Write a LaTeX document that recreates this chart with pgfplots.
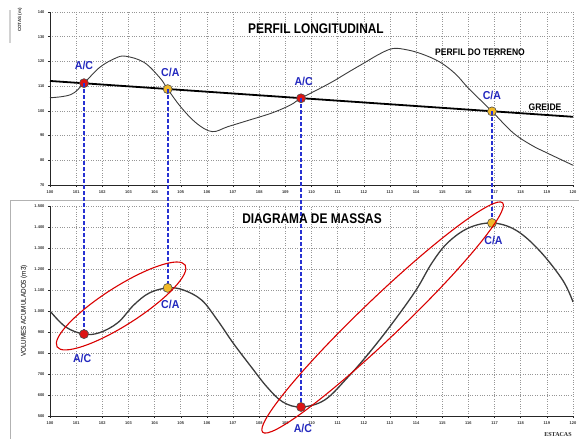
\documentclass[border=0pt]{standalone}
\usepackage{fontspec}
\setmainfont{Liberation Sans}
\newfontfamily\serifb{Liberation Serif}
\usepackage{graphicx}
\usepackage{pgfplots}
\pgfplotsset{compat=1.18}
\definecolor{lblblue}{RGB}{35,40,190}
\definecolor{dashblue}{RGB}{40,50,210}
\definecolor{mred}{RGB}{220,20,20}
\definecolor{myel}{RGB}{240,185,40}
\definecolor{gridc}{RGB}{150,150,150}
\definecolor{curvec}{RGB}{60,60,60}
\tikzset{lbl/.style={font=\fontsize{11.5}{11.5}\selectfont\bfseries, text=lblblue, xscale=0.92, transform shape}}
\pgfplotsset{
  common/.style={
    set layers,
    scale only axis, width=523pt,
    axis lines*=left,
    axis line style={black!85, line width=1pt},
    grid=major,
    grid style={gridc, dotted, line width=0.6pt},
    xmin=100, xmax=120, xtick={100,...,120},
    tick label style={font=\fontsize{4}{4}\selectfont\bfseries, text=black!80},
    tick style={black!85, line width=0.5pt},
    major tick length=2pt, tick align=outside,
    /pgf/number format/assume math mode=true,
    /pgf/number format/1000 sep={.},
    clip=false,
  },
  acmark/.style={only marks, mark=*, mark size=4.5pt, mark options={fill=mred, draw=black!70, line width=0.6pt}},
  camark/.style={only marks, mark=*, mark size=4.5pt, mark options={fill=myel, draw=black!70, line width=0.6pt}},
}
\begin{document}
\begin{tikzpicture}
\draw[gray!60, line width=1pt] (10pt,-200pt) -- (579pt,-200pt);
\draw[gray!60, line width=1pt] (10pt,-200pt) -- (10pt,-439pt);
\draw[gray!35, line width=2pt] (10pt,-10pt) -- (10pt,-43pt);
% ---------- top axis ----------
\begin{axis}[common, at={(50pt,-185pt)}, anchor=south west, height=173pt,
  ymin=70, ymax=140, ytick={70,80,...,140}]
\addplot[curvec, line width=0.9pt, smooth, tension=0.6] coordinates {
(100,105.3) (100.8,106.6) (101.3,111.2) (101.9,117.6) (102.5,121.3) (102.9,122.1)
(103.6,119.6) (104.2,113.4) (104.5,108.8) (105,101.6) (105.6,95) (106.2,91.6)
(106.8,93.6) (107.6,96.2) (108.5,99.2) (109.2,102.4) (109.6,105.1) (110.7,111.2)
(111.4,115.6) (112,119.3) (112.6,123) (113.1,125.2) (113.6,124.8) (114.2,123.1)
(114.9,119.8) (115.5,115) (116,109.2) (116.9,99.8) (117.7,91.2) (118.4,86.2)
(119,83) (120,78)};
\addplot[black, line width=1.8pt] coordinates {(100,112.1) (120,97.6)};
\addplot[acmark] coordinates {(101.3,111.2) (109.6,105.1)};
\addplot[camark] coordinates {(104.5,108.8) (116.9,99.8)};
\coordinate (t1) at (axis cs:101.3,111.2);
\coordinate (t2) at (axis cs:104.5,108.8);
\coordinate (t3) at (axis cs:109.6,105.1);
\coordinate (t4) at (axis cs:116.9,99.8);
\node[lbl] at (axis cs:101.3,118.5) {A/C};
\node[lbl] at (axis cs:104.6,115.7) {C/A};
\node[lbl] at (axis cs:109.7,111.8) {A/C};
\node[lbl] at (axis cs:116.9,106.4) {C/A};
\end{axis}
% ---------- bottom axis ----------
\begin{axis}[common, at={(50pt,-416pt)}, anchor=south west, height=210pt,
  ymin=500, ymax=1500, ytick={500,600,...,1500}]
\draw[on layer=pre main, dashblue, line width=1.7pt, dash pattern=on 4pt off 2pt] (t1) -- (axis cs:101.3,890);
\draw[on layer=pre main, dashblue, line width=1.7pt, dash pattern=on 4pt off 2pt] (t2) -- (axis cs:104.5,1110);
\draw[on layer=pre main, dashblue, line width=1.7pt, dash pattern=on 4pt off 2pt] (t3) -- (axis cs:109.6,543);
\draw[on layer=pre main, dashblue, line width=1.7pt, dash pattern=on 4pt off 2pt] (t4) -- (axis cs:116.9,1419);
\addplot[curvec, line width=1.3pt, smooth, tension=0.6] coordinates {
(100,1000) (100.6,924) (101.3,890) (101.9,897) (102.6,945) (103.2,1028) (103.8,1086)
(104.5,1110) (105.1,1100) (105.8,1052) (106.4,957) (107,848) (107.7,733) (108.3,638)
(108.9,567) (109.6,543) (110.5,576) (111.4,686) (112.2,800) (113.1,943) (114,1100)
(114.6,1228) (115.2,1324) (116,1395) (116.9,1419) (117.8,1386) (118.7,1290)
(119.6,1148) (120,1043)};
\addplot[acmark] coordinates {(101.3,890) (109.6,543)};
\addplot[camark] coordinates {(104.5,1110) (116.9,1419)};
\node[lbl] at (axis cs:101.23,776) {A/C};
\node[lbl] at (axis cs:104.6,1033) {C/A};
\node[lbl] at (axis cs:109.67,441) {A/C};
\node[lbl] at (axis cs:116.96,1338) {C/A};
\coordinate (e1) at (axis cs:102.72,1024);
\coordinate (e2) at (axis cs:112.72,969);
\end{axis}
\draw[red!85!black, line width=1.1pt, rotate around={32.6:(e1)}] (e1) ellipse [x radius=76pt, y radius=19pt];
\draw[red!85!black, line width=1.1pt, rotate around={43.7:(e2)}] (e2) ellipse [x radius=166pt, y radius=20pt];
% titles and labels
\node at (316pt,-29pt) {\scalebox{0.85}[1]{\fontsize{14}{14}\selectfont\bfseries PERFIL LONGITUDINAL}};
\node at (312pt,-219pt) {\scalebox{0.85}[1]{\fontsize{14}{14}\selectfont\bfseries DIAGRAMA DE MASSAS}};
\node at (480pt,-52pt) {\scalebox{0.9}[1]{\fontsize{9.5}{9.5}\selectfont\bfseries PERFIL DO TERRENO}};
\node at (545pt,-107.5pt) {\scalebox{0.9}[1]{\fontsize{9.5}{9.5}\selectfont\bfseries GREIDE}};
\node[rotate=90, font=\fontsize{4.5}{4.5}\selectfont\bfseries, text=black!80] at (20pt,-20pt) {COTAS (m)};
\node[rotate=90, font=\fontsize{7}{7}\selectfont, text=black] at (24pt,-311pt) {\scalebox{0.9}[1]{VOLUMES ACUMULADOS (m3)}};
\node[font=\fontsize{6}{6}\selectfont\serifb\bfseries, text=black!85] at (558pt,-435pt) {ESTACAS};
\pgfresetboundingbox
\path[use as bounding box] (0pt,0pt) rectangle (579pt,-439pt);
\end{tikzpicture}
\end{document}
